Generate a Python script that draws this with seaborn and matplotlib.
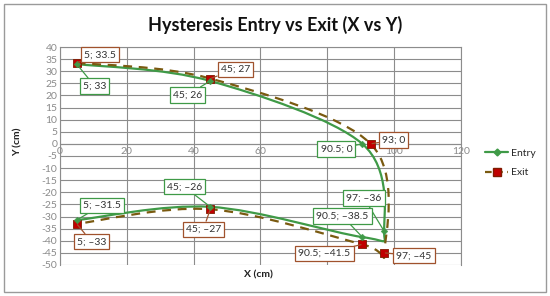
import numpy as np
import pandas as pd
import matplotlib
matplotlib.use("Agg")
import matplotlib.pyplot as plt
import seaborn as sns
from matplotlib.path import Path
from matplotlib.patches import PathPatch, Rectangle
from matplotlib.lines import Line2D

# -------------------------- data --------------------------
entry_x = [5, 45, 90.5, 97, 90.5, 45, 5]
entry_y = [33, 26, 0, -36, -38.5, -26, -31.5]
exit_x = [5, 45, 93, 97, 90.5, 45, 5]
exit_y = [33.5, 27, 0, -45, -41.5, -27, -33]

x_ticks = [0, 20, 40, 60, 80, 100, 120]
y_ticks = list(range(40, -55, -5))

# label box offsets (pixels) relative to each point
entry_offsets = [(18, -22), (-23, -14), (-26, -5), (-20, 33), (-20, 21), (-26, 20), (25, 15)]
exit_offsets = [(23, 8), (25, 9), (23, 4), (30, -3), (-38, -9), (-7, -20), (15, -18)]

ENTRY_COLOR = "#3f9a47"
EXIT_LINE = "#7a5a10"
EXIT_MARK = "#c00000"
EXIT_BOX = "#a0522d"
GRID = "#8c8c8c"
TXT_GRAY = "#8a8a8a"

sns.set_theme(style="white")
plt.rcParams['font.family'] = ['Lato', 'DejaVu Sans']
plt.rcParams['axes.unicode_minus'] = False


def smooth_path(xs, ys):
    # Excel style smoothed line: cubic bezier with 1/6 tangents
    pts = np.column_stack([xs, ys]).astype(float)
    n = len(pts)
    verts = [pts[0]]
    codes = [Path.MOVETO]
    for i in range(n - 1):
        p0 = pts[i - 1] if i > 0 else pts[i]
        p1 = pts[i]
        p2 = pts[i + 1]
        p3 = pts[i + 2] if i + 2 < n else pts[i + 1]
        c1 = p1 + (p2 - p0) / 6.0
        c2 = p2 - (p3 - p1) / 6.0
        verts += [c1, c2, p2]
        codes += [Path.CURVE4] * 3
    return Path(verts, codes)


def fmt(v):
    s = f"{v:g}"
    return s.replace("-", "\u2013")


fig = plt.figure(figsize=(5.5, 2.96), dpi=100)
ax = fig.add_axes([0.109, 0.105, 0.729, 0.736])

# curves
ax.add_patch(PathPatch(smooth_path(entry_x, entry_y), fill=False,
                       edgecolor=ENTRY_COLOR, lw=1.6, zorder=3))
ax.add_patch(PathPatch(smooth_path(exit_x, exit_y), fill=False,
                       edgecolor=EXIT_LINE, lw=1.6, ls=(0, (4, 3)), zorder=3))

df_entry = pd.DataFrame({"x": entry_x, "y": entry_y})
df_exit = pd.DataFrame({"x": exit_x, "y": exit_y})
sns.scatterplot(data=df_exit, x="x", y="y", marker="s", s=40, color=EXIT_MARK,
                edgecolor="#7f1a00", linewidth=0.6, ax=ax, zorder=4, legend=False)
sns.scatterplot(data=df_entry, x="x", y="y", marker="D", s=12, color=ENTRY_COLOR,
                edgecolor=ENTRY_COLOR, ax=ax, zorder=5, legend=False)

# callout labels
for xs, ys, offs, ec in [(entry_x, entry_y, entry_offsets, ENTRY_COLOR),
                          (exit_x, exit_y, exit_offsets, EXIT_BOX)]:
    for x, y, (dx, dy) in zip(xs, ys, offs):
        ax.annotate(f"{fmt(x)}; {fmt(y)}", xy=(x, y), xytext=(dx, dy),
                    textcoords="offset pixels", ha="center", va="center",
                    fontsize=7.5, color="#333333", zorder=6,
                    bbox=dict(boxstyle="square,pad=0.3", fc="white", ec=ec, lw=0.9),
                    arrowprops=dict(arrowstyle="-", color=ec, lw=0.9,
                                    shrinkA=0, shrinkB=1))

# axes
ax.set_xlim(0, 120)
ax.set_ylim(-50, 40)
ax.set_xticks(x_ticks)
ax.set_yticks(y_ticks)
ax.set_xticklabels([str(t) for t in x_ticks])
ax.set_yticklabels([str(t) for t in y_ticks])
ax.grid(True, color=GRID, lw=0.8)
ax.set_axisbelow(True)
for side in ["top", "right", "left"]:
    ax.spines[side].set_color(GRID)
    ax.spines[side].set_linewidth(0.8)
ax.spines["bottom"].set_position(("data", 0))
ax.spines["bottom"].set_color(GRID)
ax.spines["bottom"].set_linewidth(0.8)
ax.tick_params(axis="both", labelsize=7.5, labelcolor=TXT_GRAY, length=0, pad=2)

ax.set_xlabel("")
ax.set_ylabel("")
fig.text(0.47, 0.07, "X (cm)", fontsize=7.5, fontweight="bold", ha="center", va="center",
         color="#222222")
fig.text(0.033, 0.52, "Y (cm)", fontsize=7.5, fontweight="bold", ha="center", va="center",
         rotation=90, color="#222222")
fig.text(0.5, 0.915, "Hysteresis Entry vs Exit (X vs Y)", fontsize=13, fontweight="bold",
         ha="center", va="center", color="#111111")

handles = [Line2D([], [], color=ENTRY_COLOR, lw=1.6, marker="D", markersize=3.5),
           Line2D([], [], color=EXIT_LINE, lw=1.6, ls=(0, (3, 2)), marker="s",
                  markersize=6, markerfacecolor=EXIT_MARK, markeredgecolor="#7f1a00")]
fig.legend(handles, ["Entry", "Exit"], loc="center left", bbox_to_anchor=(0.865, 0.45),
           frameon=False, fontsize=7.5, handlelength=2.2, handletextpad=0.3,
           labelspacing=1.0)

# chart border
fig.add_artist(Rectangle((0.008, 0.012), 0.985, 0.975, transform=fig.transFigure,
                         fill=False, ec="#9a9a9a", lw=1.0))

fig.savefig("out.png", dpi=100)
